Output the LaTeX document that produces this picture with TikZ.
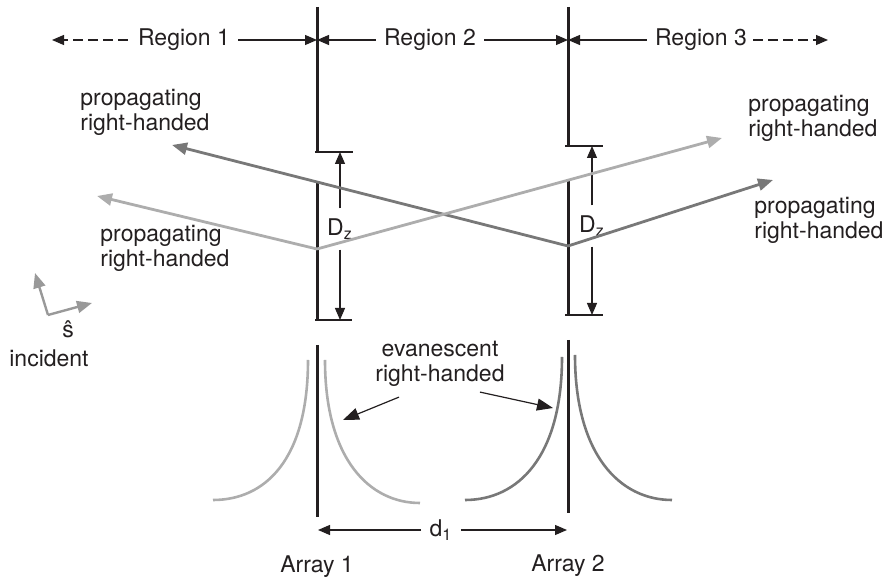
\documentclass[tikz,border=0pt]{standalone}
\usepackage{fontspec}
\setmainfont{TeX Gyre Heros}
\usetikzlibrary{arrows.meta,positioning}
\definecolor{ink}{HTML}{231F20}
\definecolor{raydark}{gray}{0.47}
\definecolor{raylight}{gray}{0.68}
\definecolor{incgray}{gray}{0.6}

\begin{document}
\begin{tikzpicture}[x=0.5pt, y=-0.5pt,
  lbl/.style={inner sep=0pt, align=left, text=ink, font=\fontsize{11.5}{12.5}\selectfont},
  arrayline/.style={line width=1.5pt, ink},
  tick/.style={line width=0.6pt, ink},
  dim/.style={line width=0.6pt, ink, -{Triangle[length=6pt,width=5pt]}},
  dashdim/.style={dim, dash pattern=on 5pt off 2.5pt},
  ray/.style={line width=1.4pt, -{Triangle[length=7.5pt,width=6pt]}},
  evcurve/.style={line width=1.3pt}
]
\useasboundingbox (0,0) rectangle (884,581);

% region labels
\node[lbl] (r1) at (184,40) {Region 1};
\node[lbl] (r2) at (430,40) {Region 2};
\node[lbl] (r3) at (701,40) {Region 3};
\coordinate (a1r) at (317,40);
\coordinate (a2r) at (568,40);
\coordinate (farL) at (52,40);
\coordinate (farR) at (828,40);

\draw[dashdim] ([xshift=-5pt]r1.west) -- (farL);
\draw[dim] ([xshift=4pt]r1.east) -- (a1r);
\draw[dim] ([xshift=-4pt]r2.west) -- (a1r);
\draw[dim] ([xshift=4pt]r2.east) -- (a2r);
\draw[dim] ([xshift=-4pt]r3.west) -- (a2r);
\draw[dashdim] ([xshift=3pt]r3.east) -- (farR);

% arrays
\draw[arrayline] (317,7) -- (317,152);
\draw[arrayline] (317,183) -- (317,320);
\draw[arrayline] (317,345) -- (317,517);
\draw[arrayline] (568,7) -- (568,146);
\draw[arrayline] (568,180) -- (568,315);
\draw[arrayline] (568,340) -- (568,513);

% D_z dimensions
\draw[tick] (315,152) -- (353,152);
\draw[tick] (315,320) -- (352,320);
\draw[tick] (565,146) -- (603,146);
\draw[tick] (565,315) -- (603,315);
\node[lbl, inner ysep=5pt] (dz1) at (340,229) {D\textsubscript{z}};
\node[lbl, inner ysep=5pt] (dz2) at (592,226) {D\textsubscript{z}};
\draw[dim] (dz1.north) -- (340,152);
\draw[dim] (dz1.south) -- (340,320);
\draw[dim] (dz2.north) -- (592,146);
\draw[dim] (dz2.south) -- (592,315);

% propagating rays
\coordinate (hit1) at (317,249);
\coordinate (hit2) at (568,246);
\coordinate (tipUL) at (172,145);
\coordinate (tipLL) at (97,196);
\coordinate (tipUR) at (722,138);
\coordinate (tipLR) at (773,180);
\draw[ray, raydark] (hit2) -- (tipUL);
\draw[ray, raydark] (hit2) -- (tipLR);
\draw[ray, raylight] (hit1) -- (tipLL);
\draw[ray, raylight] (hit1) -- (tipUR);

\node[lbl, anchor=west] (propUL) at (80,112) {propagating\\right-handed};
\node[lbl, anchor=west] (propUR) at (748,118) {propagating\\right-handed};
\node[lbl, anchor=west] (propLR) at (754,220) {propagating\\right-handed};
\node[lbl, anchor=west] (propLL) at (100,248) {propagating\\right-handed};

% incident direction
\coordinate (sorig) at (48,315);
\coordinate (sup) at (35,273);
\coordinate (sright) at (92,303);
\draw[ray, incgray, line width=1.2pt] (sorig) -- (sup);
\draw[ray, incgray, line width=1.2pt] (sorig) -- (sright);
\node[lbl] (shat) at (68,329) {\^{s}};
\node[lbl] (inc) at (49,358) {incident};

% evanescent fields
\draw[evcurve, raylight] (308,360) .. controls (308,460) and (265,500) .. (213,500);
\draw[evcurve, raylight] (325,360) .. controls (325,460) and (370,503) .. (420,503);
\draw[evcurve, raydark] (562,357) .. controls (562,457) and (518,500) .. (465,500);
\draw[evcurve, raydark] (575,355) .. controls (575,455) and (620,500) .. (672,500);

\node[lbl, align=center] (evan) at (440,364) {evanescent\\right-handed};
\coordinate (evL) at (343,420);
\coordinate (evR) at (553,408);
\draw[dim, -{Triangle[length=8pt,width=6pt]}] ([shift={(24,10)}]evan.south west) -- (evL);
\draw[dim, -{Triangle[length=8pt,width=6pt]}] ([shift={(-25,5)}]evan.south east) -- (evR);

% spacing d1
\node[lbl] (d1) at (441,530) {d\textsubscript{1}};
\coordinate (d1L) at (318,530);
\coordinate (d1R) at (567,530);
\draw[dim] ([xshift=-4pt]d1.west) -- (d1L);
\draw[dim] ([xshift=4pt]d1.east) -- (d1R);

\node[lbl] (arr1) at (317,567) {Array 1};
\node[lbl] (arr2) at (568,566) {Array 2};
\end{tikzpicture}
\end{document}
